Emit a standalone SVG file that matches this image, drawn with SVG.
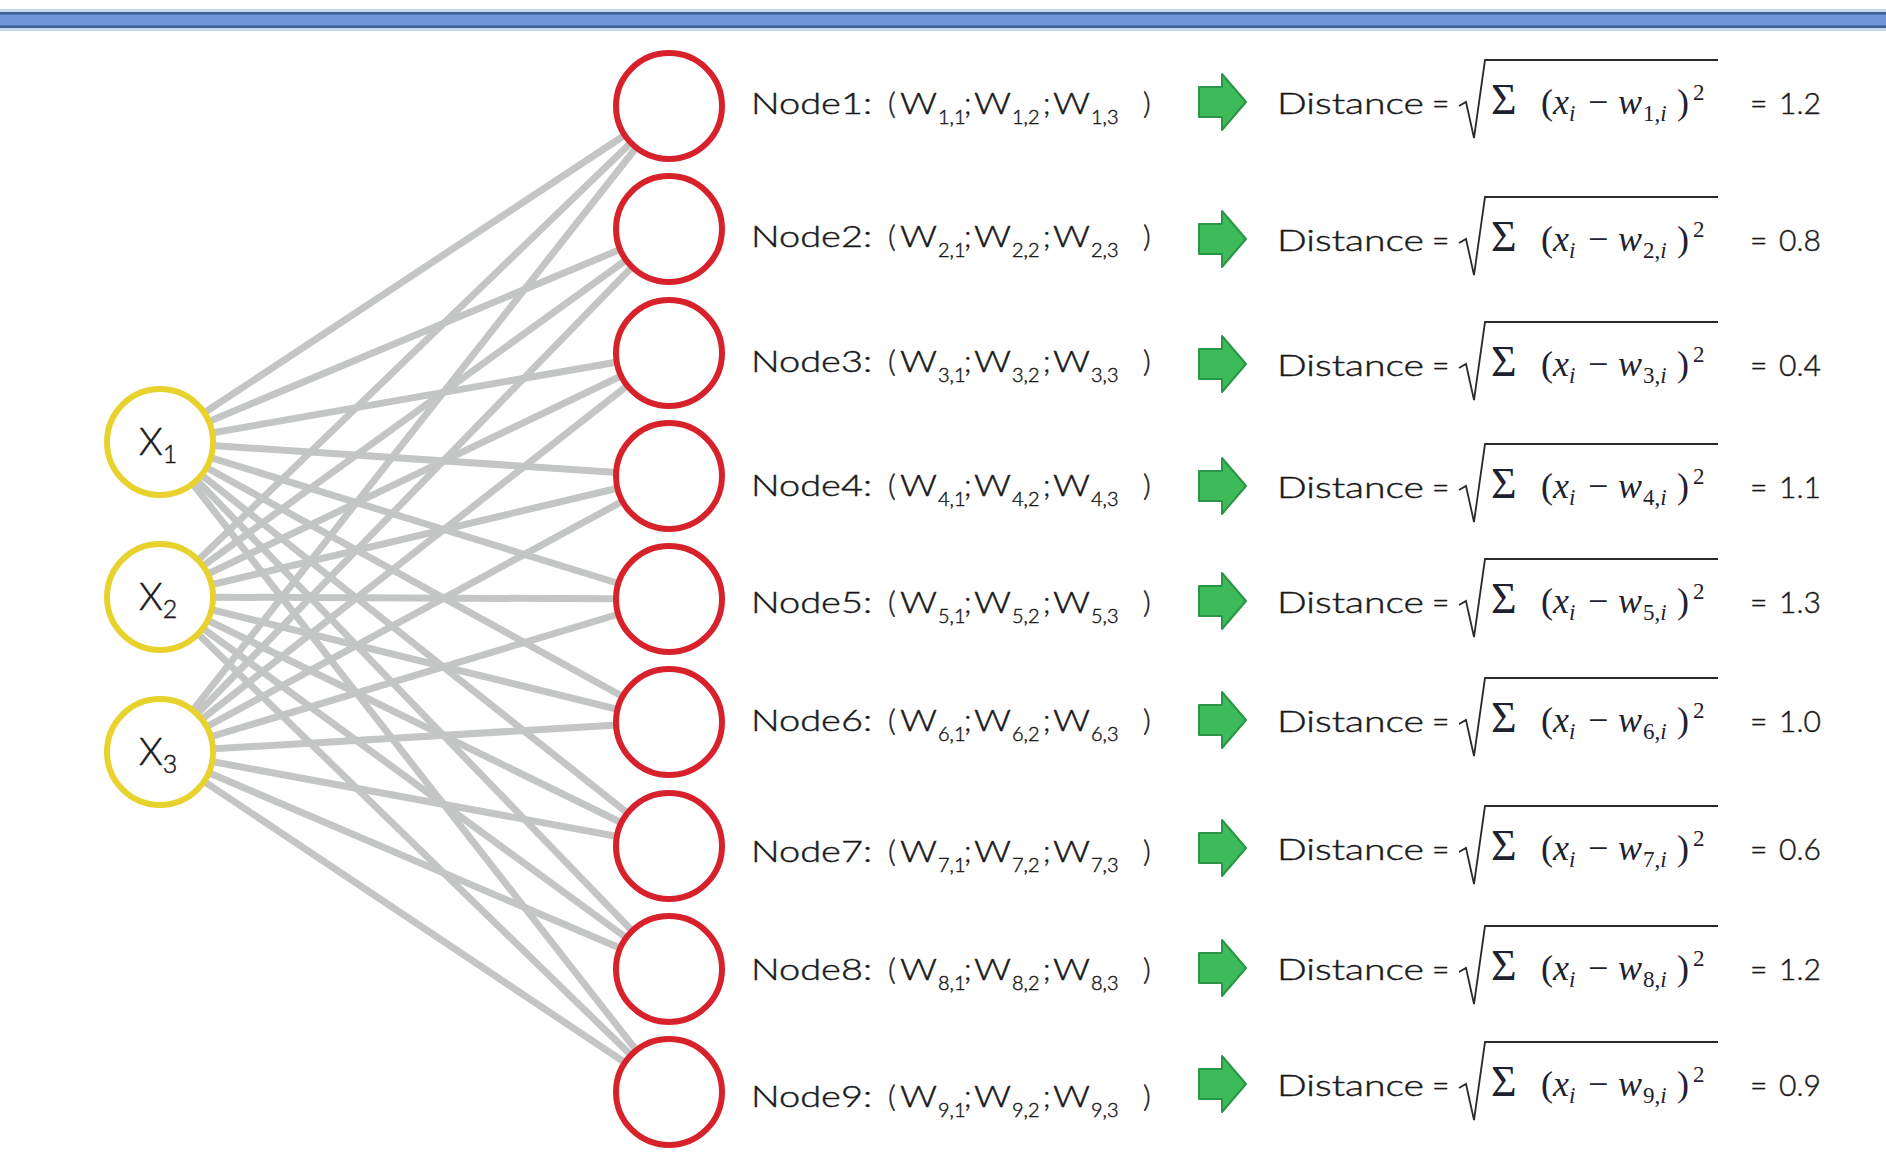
<svg xmlns="http://www.w3.org/2000/svg" xmlns:xlink="http://www.w3.org/1999/xlink" width="1886" height="1172" viewBox="0 0 1886 1172">
  <style>
    .link{stroke:#c4c6c6;stroke-width:7;fill:none}
    .inp{fill:#fff;stroke:#e8d22e;stroke-width:6}
    .som{fill:#fff;stroke:#d7222c;stroke-width:6}
    .lbl{font-family:Lato,"Noto Sans",sans-serif;font-weight:300;font-size:30px;fill:#1a1a1a;stroke:#1a1a1a;stroke-width:0.45}
    .sub{font-size:20px}
    .xl{font-family:Lato,"Noto Sans",sans-serif;font-weight:300;font-size:38px;fill:#1a1a1a;stroke:#1a1a1a;stroke-width:0.5}
    .xs{font-size:25px}
    .math{font-family:"Liberation Serif",serif;font-size:36px;fill:#1e2230}
    .msub{font-size:23px}
    .it{font-style:italic}
    .arrow{fill:#3dba5a;stroke:#2b9547;stroke-width:2;stroke-linejoin:round}
    .rad{fill:none;stroke:#2a2a2a;stroke-width:1.8;stroke-linejoin:miter}
  </style>
  <defs>
    <!-- green block arrow, centred on y=0 -->
    <path id="arrow" class="arrow" d="M1199,-15 H1222 V-28 L1246,0 L1222,28 V15 H1199 Z"/>
    <!-- square-root sign with its overline, centred on y=0 -->
    <path id="radical" class="rad" d="M1459,4 L1466,0 L1474,36 L1485,-42 H1718"/>
  </defs>
  <rect width="1886" height="1172" fill="#fff"/>

  <!-- title bar -->
  <g id="title-bar">
    <rect x="0" y="9" width="1886" height="3" fill="#c9d8ef"/>
    <rect x="0" y="12" width="1886" height="16" fill="#6d97d8"/>
    <rect x="0" y="12" width="1886" height="2.5" fill="#3f5f8f"/>
    <rect x="0" y="25.5" width="1886" height="2.5" fill="#3f5f8f"/>
    <rect x="0" y="28" width="1886" height="3" fill="#c9d8ef"/>
  </g>

  <!-- weights: every input to every node -->
  <g id="connectors" class="link">
    <line x1="160" y1="442" x2="669" y2="106"/>
    <line x1="160" y1="442" x2="669" y2="229"/>
    <line x1="160" y1="442" x2="669" y2="353"/>
    <line x1="160" y1="442" x2="669" y2="476"/>
    <line x1="160" y1="442" x2="669" y2="599"/>
    <line x1="160" y1="442" x2="669" y2="722"/>
    <line x1="160" y1="442" x2="669" y2="846"/>
    <line x1="160" y1="442" x2="669" y2="969"/>
    <line x1="160" y1="442" x2="669" y2="1092"/>
    <line x1="160" y1="597" x2="669" y2="106"/>
    <line x1="160" y1="597" x2="669" y2="229"/>
    <line x1="160" y1="597" x2="669" y2="353"/>
    <line x1="160" y1="597" x2="669" y2="476"/>
    <line x1="160" y1="597" x2="669" y2="599"/>
    <line x1="160" y1="597" x2="669" y2="722"/>
    <line x1="160" y1="597" x2="669" y2="846"/>
    <line x1="160" y1="597" x2="669" y2="969"/>
    <line x1="160" y1="597" x2="669" y2="1092"/>
    <line x1="160" y1="752" x2="669" y2="106"/>
    <line x1="160" y1="752" x2="669" y2="229"/>
    <line x1="160" y1="752" x2="669" y2="353"/>
    <line x1="160" y1="752" x2="669" y2="476"/>
    <line x1="160" y1="752" x2="669" y2="599"/>
    <line x1="160" y1="752" x2="669" y2="722"/>
    <line x1="160" y1="752" x2="669" y2="846"/>
    <line x1="160" y1="752" x2="669" y2="969"/>
    <line x1="160" y1="752" x2="669" y2="1092"/>
  </g>

  <!-- input nodes -->
  <g id="input-x1">
    <circle class="inp" cx="160" cy="442" r="53"/>
    <text class="xl" x="139" y="455">X<tspan class="xs" dy="8">1</tspan></text>
  </g>
  <g id="input-x2">
    <circle class="inp" cx="160" cy="597" r="53"/>
    <text class="xl" x="139" y="610">X<tspan class="xs" dy="8">2</tspan></text>
  </g>
  <g id="input-x3">
    <circle class="inp" cx="160" cy="752" r="53"/>
    <text class="xl" x="139" y="765">X<tspan class="xs" dy="8">3</tspan></text>
  </g>

  <!-- output nodes with their weight vectors and distances -->
  <g id="node-1">
    <circle class="som" cx="669" cy="106" r="53"/>
    <text class="lbl" x="751" y="114" textLength="121" lengthAdjust="spacingAndGlyphs">Node1:</text>
    <text class="lbl" y="114"><tspan x="888">(</tspan><tspan x="900" textLength="37" lengthAdjust="spacingAndGlyphs">W</tspan><tspan x="938" dy="10" class="sub">1,1</tspan><tspan x="964" dy="-10">;</tspan><tspan x="974" textLength="37" lengthAdjust="spacingAndGlyphs">W</tspan><tspan x="1012" dy="10" class="sub">1,2</tspan><tspan x="1043" dy="-10">;</tspan><tspan x="1053" textLength="37" lengthAdjust="spacingAndGlyphs">W</tspan><tspan x="1091" dy="10" class="sub">1,3</tspan><tspan x="1143" dy="-10">)</tspan></text>
    <use xlink:href="#arrow" y="102"/>
    <text class="lbl" x="1277" y="114" textLength="147" lengthAdjust="spacingAndGlyphs">Distance</text>
    <text class="lbl" x="1432" y="114">=</text>
    <use xlink:href="#radical" y="102"/>
    <text class="math" y="114"><tspan x="1491" font-size="44">Σ</tspan><tspan x="1541">(</tspan><tspan x="1553" class="it">x</tspan><tspan x="1569" dy="7" class="msub it">i</tspan><tspan x="1588" dy="-7">−</tspan><tspan x="1618" class="it">w</tspan><tspan x="1643" dy="7" class="msub">1,</tspan><tspan class="msub it">i</tspan><tspan x="1677" dy="-7">)</tspan><tspan x="1693" dy="-14" class="msub">2</tspan></text>
    <text class="lbl" y="114"><tspan x="1750">=</tspan><tspan x="1779">1.2</tspan></text>
  </g>
  <g id="node-2">
    <circle class="som" cx="669" cy="229" r="53"/>
    <text class="lbl" x="751" y="247" textLength="121" lengthAdjust="spacingAndGlyphs">Node2:</text>
    <text class="lbl" y="247"><tspan x="888">(</tspan><tspan x="900" textLength="37" lengthAdjust="spacingAndGlyphs">W</tspan><tspan x="938" dy="10" class="sub">2,1</tspan><tspan x="964" dy="-10">;</tspan><tspan x="974" textLength="37" lengthAdjust="spacingAndGlyphs">W</tspan><tspan x="1012" dy="10" class="sub">2,2</tspan><tspan x="1043" dy="-10">;</tspan><tspan x="1053" textLength="37" lengthAdjust="spacingAndGlyphs">W</tspan><tspan x="1091" dy="10" class="sub">2,3</tspan><tspan x="1143" dy="-10">)</tspan></text>
    <use xlink:href="#arrow" y="239"/>
    <text class="lbl" x="1277" y="251" textLength="147" lengthAdjust="spacingAndGlyphs">Distance</text>
    <text class="lbl" x="1432" y="251">=</text>
    <use xlink:href="#radical" y="239"/>
    <text class="math" y="251"><tspan x="1491" font-size="44">Σ</tspan><tspan x="1541">(</tspan><tspan x="1553" class="it">x</tspan><tspan x="1569" dy="7" class="msub it">i</tspan><tspan x="1588" dy="-7">−</tspan><tspan x="1618" class="it">w</tspan><tspan x="1643" dy="7" class="msub">2,</tspan><tspan class="msub it">i</tspan><tspan x="1677" dy="-7">)</tspan><tspan x="1693" dy="-14" class="msub">2</tspan></text>
    <text class="lbl" y="251"><tspan x="1750">=</tspan><tspan x="1779">0.8</tspan></text>
  </g>
  <g id="node-3">
    <circle class="som" cx="669" cy="353" r="53"/>
    <text class="lbl" x="751" y="372" textLength="121" lengthAdjust="spacingAndGlyphs">Node3:</text>
    <text class="lbl" y="372"><tspan x="888">(</tspan><tspan x="900" textLength="37" lengthAdjust="spacingAndGlyphs">W</tspan><tspan x="938" dy="10" class="sub">3,1</tspan><tspan x="964" dy="-10">;</tspan><tspan x="974" textLength="37" lengthAdjust="spacingAndGlyphs">W</tspan><tspan x="1012" dy="10" class="sub">3,2</tspan><tspan x="1043" dy="-10">;</tspan><tspan x="1053" textLength="37" lengthAdjust="spacingAndGlyphs">W</tspan><tspan x="1091" dy="10" class="sub">3,3</tspan><tspan x="1143" dy="-10">)</tspan></text>
    <use xlink:href="#arrow" y="364"/>
    <text class="lbl" x="1277" y="376" textLength="147" lengthAdjust="spacingAndGlyphs">Distance</text>
    <text class="lbl" x="1432" y="376">=</text>
    <use xlink:href="#radical" y="364"/>
    <text class="math" y="376"><tspan x="1491" font-size="44">Σ</tspan><tspan x="1541">(</tspan><tspan x="1553" class="it">x</tspan><tspan x="1569" dy="7" class="msub it">i</tspan><tspan x="1588" dy="-7">−</tspan><tspan x="1618" class="it">w</tspan><tspan x="1643" dy="7" class="msub">3,</tspan><tspan class="msub it">i</tspan><tspan x="1677" dy="-7">)</tspan><tspan x="1693" dy="-14" class="msub">2</tspan></text>
    <text class="lbl" y="376"><tspan x="1750">=</tspan><tspan x="1779">0.4</tspan></text>
  </g>
  <g id="node-4">
    <circle class="som" cx="669" cy="476" r="53"/>
    <text class="lbl" x="751" y="496" textLength="121" lengthAdjust="spacingAndGlyphs">Node4:</text>
    <text class="lbl" y="496"><tspan x="888">(</tspan><tspan x="900" textLength="37" lengthAdjust="spacingAndGlyphs">W</tspan><tspan x="938" dy="10" class="sub">4,1</tspan><tspan x="964" dy="-10">;</tspan><tspan x="974" textLength="37" lengthAdjust="spacingAndGlyphs">W</tspan><tspan x="1012" dy="10" class="sub">4,2</tspan><tspan x="1043" dy="-10">;</tspan><tspan x="1053" textLength="37" lengthAdjust="spacingAndGlyphs">W</tspan><tspan x="1091" dy="10" class="sub">4,3</tspan><tspan x="1143" dy="-10">)</tspan></text>
    <use xlink:href="#arrow" y="486"/>
    <text class="lbl" x="1277" y="498" textLength="147" lengthAdjust="spacingAndGlyphs">Distance</text>
    <text class="lbl" x="1432" y="498">=</text>
    <use xlink:href="#radical" y="486"/>
    <text class="math" y="498"><tspan x="1491" font-size="44">Σ</tspan><tspan x="1541">(</tspan><tspan x="1553" class="it">x</tspan><tspan x="1569" dy="7" class="msub it">i</tspan><tspan x="1588" dy="-7">−</tspan><tspan x="1618" class="it">w</tspan><tspan x="1643" dy="7" class="msub">4,</tspan><tspan class="msub it">i</tspan><tspan x="1677" dy="-7">)</tspan><tspan x="1693" dy="-14" class="msub">2</tspan></text>
    <text class="lbl" y="498"><tspan x="1750">=</tspan><tspan x="1779">1.1</tspan></text>
  </g>
  <g id="node-5">
    <circle class="som" cx="669" cy="599" r="53"/>
    <text class="lbl" x="751" y="613" textLength="121" lengthAdjust="spacingAndGlyphs">Node5:</text>
    <text class="lbl" y="613"><tspan x="888">(</tspan><tspan x="900" textLength="37" lengthAdjust="spacingAndGlyphs">W</tspan><tspan x="938" dy="10" class="sub">5,1</tspan><tspan x="964" dy="-10">;</tspan><tspan x="974" textLength="37" lengthAdjust="spacingAndGlyphs">W</tspan><tspan x="1012" dy="10" class="sub">5,2</tspan><tspan x="1043" dy="-10">;</tspan><tspan x="1053" textLength="37" lengthAdjust="spacingAndGlyphs">W</tspan><tspan x="1091" dy="10" class="sub">5,3</tspan><tspan x="1143" dy="-10">)</tspan></text>
    <use xlink:href="#arrow" y="601"/>
    <text class="lbl" x="1277" y="613" textLength="147" lengthAdjust="spacingAndGlyphs">Distance</text>
    <text class="lbl" x="1432" y="613">=</text>
    <use xlink:href="#radical" y="601"/>
    <text class="math" y="613"><tspan x="1491" font-size="44">Σ</tspan><tspan x="1541">(</tspan><tspan x="1553" class="it">x</tspan><tspan x="1569" dy="7" class="msub it">i</tspan><tspan x="1588" dy="-7">−</tspan><tspan x="1618" class="it">w</tspan><tspan x="1643" dy="7" class="msub">5,</tspan><tspan class="msub it">i</tspan><tspan x="1677" dy="-7">)</tspan><tspan x="1693" dy="-14" class="msub">2</tspan></text>
    <text class="lbl" y="613"><tspan x="1750">=</tspan><tspan x="1779">1.3</tspan></text>
  </g>
  <g id="node-6">
    <circle class="som" cx="669" cy="722" r="53"/>
    <text class="lbl" x="751" y="731" textLength="121" lengthAdjust="spacingAndGlyphs">Node6:</text>
    <text class="lbl" y="731"><tspan x="888">(</tspan><tspan x="900" textLength="37" lengthAdjust="spacingAndGlyphs">W</tspan><tspan x="938" dy="10" class="sub">6,1</tspan><tspan x="964" dy="-10">;</tspan><tspan x="974" textLength="37" lengthAdjust="spacingAndGlyphs">W</tspan><tspan x="1012" dy="10" class="sub">6,2</tspan><tspan x="1043" dy="-10">;</tspan><tspan x="1053" textLength="37" lengthAdjust="spacingAndGlyphs">W</tspan><tspan x="1091" dy="10" class="sub">6,3</tspan><tspan x="1143" dy="-10">)</tspan></text>
    <use xlink:href="#arrow" y="720"/>
    <text class="lbl" x="1277" y="732" textLength="147" lengthAdjust="spacingAndGlyphs">Distance</text>
    <text class="lbl" x="1432" y="732">=</text>
    <use xlink:href="#radical" y="720"/>
    <text class="math" y="732"><tspan x="1491" font-size="44">Σ</tspan><tspan x="1541">(</tspan><tspan x="1553" class="it">x</tspan><tspan x="1569" dy="7" class="msub it">i</tspan><tspan x="1588" dy="-7">−</tspan><tspan x="1618" class="it">w</tspan><tspan x="1643" dy="7" class="msub">6,</tspan><tspan class="msub it">i</tspan><tspan x="1677" dy="-7">)</tspan><tspan x="1693" dy="-14" class="msub">2</tspan></text>
    <text class="lbl" y="732"><tspan x="1750">=</tspan><tspan x="1779">1.0</tspan></text>
  </g>
  <g id="node-7">
    <circle class="som" cx="669" cy="846" r="53"/>
    <text class="lbl" x="751" y="862" textLength="121" lengthAdjust="spacingAndGlyphs">Node7:</text>
    <text class="lbl" y="862"><tspan x="888">(</tspan><tspan x="900" textLength="37" lengthAdjust="spacingAndGlyphs">W</tspan><tspan x="938" dy="10" class="sub">7,1</tspan><tspan x="964" dy="-10">;</tspan><tspan x="974" textLength="37" lengthAdjust="spacingAndGlyphs">W</tspan><tspan x="1012" dy="10" class="sub">7,2</tspan><tspan x="1043" dy="-10">;</tspan><tspan x="1053" textLength="37" lengthAdjust="spacingAndGlyphs">W</tspan><tspan x="1091" dy="10" class="sub">7,3</tspan><tspan x="1143" dy="-10">)</tspan></text>
    <use xlink:href="#arrow" y="848"/>
    <text class="lbl" x="1277" y="860" textLength="147" lengthAdjust="spacingAndGlyphs">Distance</text>
    <text class="lbl" x="1432" y="860">=</text>
    <use xlink:href="#radical" y="848"/>
    <text class="math" y="860"><tspan x="1491" font-size="44">Σ</tspan><tspan x="1541">(</tspan><tspan x="1553" class="it">x</tspan><tspan x="1569" dy="7" class="msub it">i</tspan><tspan x="1588" dy="-7">−</tspan><tspan x="1618" class="it">w</tspan><tspan x="1643" dy="7" class="msub">7,</tspan><tspan class="msub it">i</tspan><tspan x="1677" dy="-7">)</tspan><tspan x="1693" dy="-14" class="msub">2</tspan></text>
    <text class="lbl" y="860"><tspan x="1750">=</tspan><tspan x="1779">0.6</tspan></text>
  </g>
  <g id="node-8">
    <circle class="som" cx="669" cy="969" r="53"/>
    <text class="lbl" x="751" y="980" textLength="121" lengthAdjust="spacingAndGlyphs">Node8:</text>
    <text class="lbl" y="980"><tspan x="888">(</tspan><tspan x="900" textLength="37" lengthAdjust="spacingAndGlyphs">W</tspan><tspan x="938" dy="10" class="sub">8,1</tspan><tspan x="964" dy="-10">;</tspan><tspan x="974" textLength="37" lengthAdjust="spacingAndGlyphs">W</tspan><tspan x="1012" dy="10" class="sub">8,2</tspan><tspan x="1043" dy="-10">;</tspan><tspan x="1053" textLength="37" lengthAdjust="spacingAndGlyphs">W</tspan><tspan x="1091" dy="10" class="sub">8,3</tspan><tspan x="1143" dy="-10">)</tspan></text>
    <use xlink:href="#arrow" y="968"/>
    <text class="lbl" x="1277" y="980" textLength="147" lengthAdjust="spacingAndGlyphs">Distance</text>
    <text class="lbl" x="1432" y="980">=</text>
    <use xlink:href="#radical" y="968"/>
    <text class="math" y="980"><tspan x="1491" font-size="44">Σ</tspan><tspan x="1541">(</tspan><tspan x="1553" class="it">x</tspan><tspan x="1569" dy="7" class="msub it">i</tspan><tspan x="1588" dy="-7">−</tspan><tspan x="1618" class="it">w</tspan><tspan x="1643" dy="7" class="msub">8,</tspan><tspan class="msub it">i</tspan><tspan x="1677" dy="-7">)</tspan><tspan x="1693" dy="-14" class="msub">2</tspan></text>
    <text class="lbl" y="980"><tspan x="1750">=</tspan><tspan x="1779">1.2</tspan></text>
  </g>
  <g id="node-9">
    <circle class="som" cx="669" cy="1092" r="53"/>
    <text class="lbl" x="751" y="1107" textLength="121" lengthAdjust="spacingAndGlyphs">Node9:</text>
    <text class="lbl" y="1107"><tspan x="888">(</tspan><tspan x="900" textLength="37" lengthAdjust="spacingAndGlyphs">W</tspan><tspan x="938" dy="10" class="sub">9,1</tspan><tspan x="964" dy="-10">;</tspan><tspan x="974" textLength="37" lengthAdjust="spacingAndGlyphs">W</tspan><tspan x="1012" dy="10" class="sub">9,2</tspan><tspan x="1043" dy="-10">;</tspan><tspan x="1053" textLength="37" lengthAdjust="spacingAndGlyphs">W</tspan><tspan x="1091" dy="10" class="sub">9,3</tspan><tspan x="1143" dy="-10">)</tspan></text>
    <use xlink:href="#arrow" y="1084"/>
    <text class="lbl" x="1277" y="1096" textLength="147" lengthAdjust="spacingAndGlyphs">Distance</text>
    <text class="lbl" x="1432" y="1096">=</text>
    <use xlink:href="#radical" y="1084"/>
    <text class="math" y="1096"><tspan x="1491" font-size="44">Σ</tspan><tspan x="1541">(</tspan><tspan x="1553" class="it">x</tspan><tspan x="1569" dy="7" class="msub it">i</tspan><tspan x="1588" dy="-7">−</tspan><tspan x="1618" class="it">w</tspan><tspan x="1643" dy="7" class="msub">9,</tspan><tspan class="msub it">i</tspan><tspan x="1677" dy="-7">)</tspan><tspan x="1693" dy="-14" class="msub">2</tspan></text>
    <text class="lbl" y="1096"><tspan x="1750">=</tspan><tspan x="1779">0.9</tspan></text>
  </g>
</svg>
